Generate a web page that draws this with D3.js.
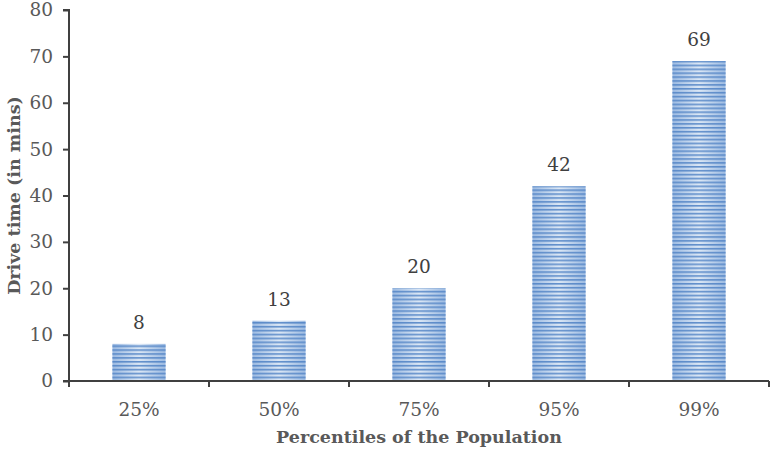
<!DOCTYPE html>
<html>
<head>
<meta charset="utf-8">
<script src="https://cdn.jsdelivr.net/npm/d3@7"></script>
<style>
  body { margin: 0; background: #fff; }
  text { font-family: "DejaVu Serif", "Liberation Serif", serif; }
</style>
</head>
<body>
<script>
let categories = ['25%', '50%', '75%', '95%', '99%']
let values = [8, 13, 20, 42, 69]
let yTicks = [0, 10, 20, 30, 40, 50, 60, 70, 80]

let margin = { top: 10, right: 2, bottom: 70, left: 69 }
let width = 771 - margin.left - margin.right
let height = 451 - margin.top - margin.bottom

let svg = d3.select('body')
    .append('svg')
    .attr('width', 771)
    .attr('height', 451)

let defs = svg.append('defs')

// horizontal gradient behind the stripes
let grad = defs.append('linearGradient')
    .attr('id', 'barGrad')
    .attr('x1', '0').attr('x2', '1').attr('y1', '0').attr('y2', '0')
grad.append('stop').attr('offset', '0').attr('stop-color', '#9dbbe2')
grad.append('stop').attr('offset', '0.5').attr('stop-color', '#dbe7f5')
grad.append('stop').attr('offset', '1').attr('stop-color', '#9dbbe2')

let pat = defs.append('pattern')
    .attr('id', 'stripes')
    .attr('patternUnits', 'userSpaceOnUse')
    .attr('width', 8)
    .attr('height', 3.9)
pat.append('rect')
    .attr('width', 8).attr('height', 1.6)
    .attr('fill', '#4f81c4')
    .attr('opacity', 0.85)

let g = svg.append('g')
    .attr('transform', 'translate(' + margin.left + ',' + margin.top + ')')

let x = d3.scaleBand()
    .domain(categories)
    .range([0, width])
    .paddingInner(0.62)
    .paddingOuter(0.31)

let y = d3.scaleLinear()
    .domain([0, 80])
    .range([height, 0])

let xGroup = d3.scaleBand().domain(categories).range([0, width])

let bars = g.selectAll('.bar')
    .data(values)
    .enter()
    .append('g')
    .attr('class', 'bar')

bars.append('rect')
    .attr('x', (d, i) => x(categories[i]))
    .attr('y', d => y(d))
    .attr('width', x.bandwidth())
    .attr('height', d => height - y(d))
    .attr('fill', 'url(#barGrad)')

bars.append('rect')
    .attr('x', (d, i) => x(categories[i]))
    .attr('y', d => y(d))
    .attr('width', x.bandwidth())
    .attr('height', d => height - y(d))
    .attr('fill', 'url(#stripes)')

bars.append('text')
    .attr('x', (d, i) => x(categories[i]) + x.bandwidth() / 2)
    .attr('y', d => y(d) - 15)
    .attr('text-anchor', 'middle')
    .attr('font-size', 18.5)
    .attr('fill', '#404040')
    .text(d => d)

// y axis
let yAxis = g.append('g')
    .call(d3.axisLeft(y).tickValues(yTicks).tickSize(6).tickPadding(10))
yAxis.attr('font-size', null).attr('font-family', null)
yAxis.select('.domain').attr('stroke', '#404040').attr('stroke-width', 2)
    .attr('d', 'M-6,0H0V' + height)
yAxis.selectAll('.tick line').attr('stroke', '#404040').attr('stroke-width', 2)
yAxis.selectAll('.tick text')
    .attr('fill', '#595959')
    .attr('font-size', 18.5)

// x axis
let xAxis = g.append('g')
    .attr('transform', 'translate(0,' + height + ')')
xAxis.append('line')
    .attr('x1', -6).attr('x2', width)
    .attr('stroke', '#404040').attr('stroke-width', 2)
let bounds = categories.map(c => xGroup(c)).concat([width])
xAxis.selectAll('.xt')
    .data(bounds)
    .enter()
    .append('line')
    .attr('x1', d => d).attr('x2', d => d)
    .attr('y1', 0).attr('y2', 6)
    .attr('stroke', '#404040').attr('stroke-width', 2)
xAxis.selectAll('.xl')
    .data(categories)
    .enter()
    .append('text')
    .attr('x', d => xGroup(d) + xGroup.bandwidth() / 2)
    .attr('y', 35)
    .attr('text-anchor', 'middle')
    .attr('font-size', 18.5)
    .attr('fill', '#595959')
    .text(d => d)

// axis titles
svg.append('text')
    .attr('x', margin.left + width / 2)
    .attr('y', 443)
    .attr('text-anchor', 'middle')
    .attr('font-size', 17.5)
    .attr('font-weight', 'bold')
    .attr('fill', '#595959')
    .text('Percentiles of the Population')

svg.append('text')
    .attr('transform', 'translate(20,' + (margin.top + height / 2) + ') rotate(-90)')
    .attr('text-anchor', 'middle')
    .attr('font-size', 17.5)
    .attr('font-weight', 'bold')
    .attr('fill', '#595959')
    .text('Drive time (in mins)')
</script>
</body>
</html>
